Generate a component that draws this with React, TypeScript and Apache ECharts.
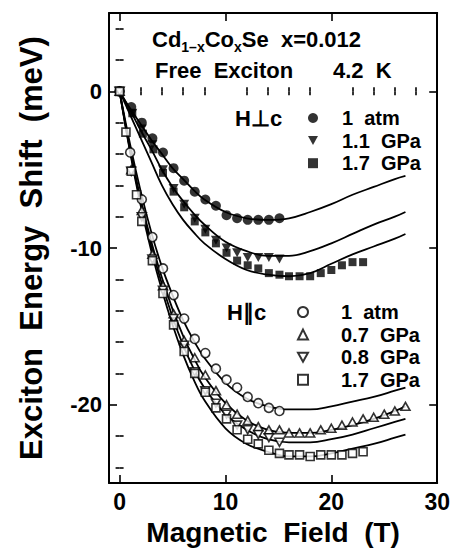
import React, { useEffect, useRef } from "react";
import * as echarts from "echarts";

// Axis ranges and ticks
const xMin = -1;
const xMax = 30;
const yMin = -25;
const yMax = 5;
const xMajorTicks = [0, 10, 20, 30];
const xMinorTicks = [2, 4, 6, 8, 12, 14, 16, 18, 22, 24, 26, 28];
const yMajorTicks = [-20, -10, 0];
const yMinorTicks = [-24, -22, -18, -16, -14, -12, -8, -6, -4, -2, 2, 4];

// H ⊥ c data (field T, shift meV)
const perpAtmB = [0, 1.1, 2.1, 3.1, 4.1, 5.1, 6.1, 7.1, 8.1, 9.1, 10.1, 11.1, 12.1, 13.1, 14.1, 15.1];
const perpAtmE = [0, -1.0, -2.0, -3.0, -3.9, -4.9, -5.7, -6.4, -6.9, -7.3, -7.9, -8.1, -8.2, -8.2, -8.2, -8.1];
const perp11B = [0, 1.2, 2.1, 3.1, 4.1, 5.1, 6.1, 7.1, 8.1, 9.1, 10.1, 11.1, 12.1, 13.1, 14.1, 15.1];
const perp11E = [0, -1.4, -2.4, -3.4, -5.0, -6.2, -7.2, -8.1, -8.8, -9.5, -10.0, -10.3, -10.6, -10.6, -10.6, -10.7];
const perp17B = [0, 1.2, 2.2, 3.2, 4.1, 5.1, 6.1, 7.1, 8.1, 9.1, 10.1, 11.1, 12.1, 13.1, 14.1, 15.1, 16.0, 17.0, 18.0, 19.0, 20.0, 21.0, 22.0, 23.0];
const perp17E = [0, -1.4, -2.7, -3.7, -5.2, -6.4, -7.4, -8.3, -9.0, -9.7, -10.3, -10.8, -11.1, -11.3, -11.6, -11.7, -11.8, -11.8, -11.8, -11.6, -11.4, -11.1, -10.9, -10.9];

// H ∥ c data
const parAtmB = [0, 1.0, 2.1, 3.1, 4.1, 5.1, 6.1, 7.1, 8.1, 9.1, 10.1, 11.1, 12.1, 13.1, 14.1, 15.1];
const parAtmE = [0, -3.9, -6.9, -9.3, -11.3, -13.0, -14.5, -15.8, -16.7, -17.7, -18.4, -18.9, -19.5, -19.9, -20.2, -20.4];
const par07B = [0, 1.1, 2.1, 3.1, 4.1, 5.1, 6.1, 7.1, 8.1, 9.1, 10.1, 11.1, 12.1, 13.1, 14.1, 15.1, 16.0, 17.0, 18.0, 19.0, 20.0, 21.0, 22.0, 23.0, 24.0, 25.0, 26.0, 27.0];
const par07E = [0, -5.0, -7.6, -10.4, -12.4, -14.2, -15.9, -17.0, -18.1, -19.1, -20.0, -20.6, -21.0, -21.4, -21.6, -21.6, -21.8, -21.8, -21.8, -21.6, -21.5, -21.3, -21.1, -20.9, -20.8, -20.6, -20.4, -20.1];
const par08B = [0, 1.1, 2.1, 3.1, 4.1, 5.1, 6.1, 7.1, 8.1, 9.1, 10.1, 11.1, 12.1, 13.1, 14.1, 15.1];
const par08E = [0, -5.1, -8.0, -10.7, -12.7, -14.5, -16.2, -17.9, -19.1, -19.9, -20.6, -21.3, -21.6, -21.9, -22.1, -22.4];
const par17B = [0, 0.6, 1.1, 1.6, 2.1, 3.1, 4.1, 5.1, 6.1, 7.1, 8.1, 9.1, 10.1, 11.1, 12.1, 13.1, 14.1, 15.1, 16.0, 17.0, 18.0, 19.0, 20.0, 21.0, 22.0, 23.0];
const par17E = [0, -2.6, -5.1, -6.6, -8.3, -10.8, -12.9, -14.9, -16.6, -18.0, -19.2, -20.2, -20.9, -21.6, -22.2, -22.5, -22.9, -23.1, -23.2, -23.2, -23.3, -23.2, -23.2, -23.2, -23.1, -23.0];

// Fitted curves (read at these fields)
const fitB = [0, 1, 2, 3, 4, 5, 6, 7, 8, 10, 12, 14, 16, 18, 20, 22, 24, 26, 27];
const fitPerpAtm = [0, -1.1, -2.1, -3.1, -4.0, -4.9, -5.6, -6.3, -6.9, -7.7, -8.1, -8.2, -8.1, -7.7, -7.2, -6.6, -6.1, -5.6, -5.4];
const fitPerp11 = [0, -1.2, -2.5, -3.7, -5.0, -6.1, -7.0, -7.8, -8.5, -9.6, -10.2, -10.5, -10.5, -10.2, -9.7, -9.1, -8.5, -8.0, -7.7];
const fitPerp17 = [0, -1.5, -3.0, -4.5, -6.0, -7.2, -8.2, -9.0, -9.7, -10.7, -11.4, -11.7, -11.8, -11.6, -11.0, -10.4, -9.9, -9.4, -9.1];
const fitParAtm = [0, -3.4, -6.4, -9.0, -11.2, -13.0, -14.6, -15.9, -17.0, -18.6, -19.6, -20.1, -20.3, -20.3, -20.1, -19.8, -19.5, -19.1, -18.9];
const fitPar07 = [0, -3.7, -6.9, -9.6, -11.9, -13.9, -15.6, -17.0, -18.2, -19.9, -21.0, -21.6, -21.8, -21.8, -21.6, -21.3, -20.9, -20.4, -20.1];
const fitPar08 = [0, -3.8, -7.1, -9.9, -12.3, -14.4, -16.2, -17.7, -18.9, -20.6, -21.6, -22.2, -22.4, -22.4, -22.2, -21.9, -21.5, -21.1, -20.9];
const fitPar17 = [0, -3.9, -7.3, -10.2, -12.7, -14.9, -16.8, -18.4, -19.7, -21.5, -22.5, -23.0, -23.3, -23.3, -23.1, -22.8, -22.5, -22.1, -21.9];

const perpNames = ["⊥ 1 atm", "⊥ 1.1 GPa", "⊥ 1.7 GPa"];
const parNames = ["∥ 1 atm", "∥ 0.7 GPa", "∥ 0.8 GPa", "∥ 1.7 GPa"];

const FONT = "'Liberation Sans', Arial, Helvetica, sans-serif";
const DOWN_TRI = "path://M0,0L10,0L5,9Z";

const zip = (xs: number[], ys: number[]) => xs.map((x, i) => [x, ys[i]]);

export default function App() {
  const ref = useRef<HTMLDivElement>(null);
  useEffect(() => {
    if (!ref.current) return;
    const chart = echarts.init(ref.current, null, { renderer: "svg" });

    const axisLine = { show: true, onZero: false, lineStyle: { color: "#000", width: 2 } };
    const mkX = (position: string, ticks: number[], len: number, labels: boolean, line: boolean) => ({
      type: "value",
      min: xMin,
      max: xMax,
      position,
      axisLine: line ? axisLine : { show: false },
      axisTick: { show: true, inside: true, length: len, customValues: ticks, lineStyle: { color: "#000", width: 1.6 } },
      axisLabel: labels
        ? { show: true, customValues: xMajorTicks, fontFamily: FONT, fontWeight: "bold", fontSize: 23, color: "#000", margin: 7 }
        : { show: false },
      splitLine: { show: false },
    });
    const mkY = (position: string, ticks: number[], len: number, labels: boolean, line: boolean) => ({
      type: "value",
      min: yMin,
      max: yMax,
      position,
      axisLine: line ? axisLine : { show: false },
      axisTick: { show: true, inside: true, length: len, customValues: ticks, lineStyle: { color: "#000", width: 1.6 } },
      axisLabel: labels
        ? { show: true, customValues: yMajorTicks, fontFamily: FONT, fontWeight: "bold", fontSize: 22, color: "#000", margin: 7 }
        : { show: false },
      splitLine: { show: false },
    });

    const xAxes: any[] = [
      {
        ...mkX("bottom", xMajorTicks, 8, true, true),
        name: "Magnetic  Field  (T)",
        nameLocation: "middle",
        nameGap: 30,
        nameTextStyle: { fontFamily: FONT, fontWeight: "bold", fontSize: 28, color: "#000" },
      },
      mkX("bottom", xMinorTicks, 4, false, false),
      mkX("top", xMajorTicks, 8, false, true),
      mkX("top", xMinorTicks, 4, false, false),
    ];
    const yAxes: any[] = [
      {
        ...mkY("left", yMajorTicks, 8, true, true),
        name: "Exciton  Energy  Shift  (meV)",
        nameLocation: "middle",
        nameGap: 62,
        nameTextStyle: { fontFamily: FONT, fontWeight: "bold", fontSize: 31, color: "#000" },
      },
      mkY("left", yMinorTicks, 4, false, false),
      mkY("right", yMajorTicks, 8, false, true),
      mkY("right", yMinorTicks, 4, false, false),
    ];

    const fitLine = (ys: number[]) => ({
      type: "line",
      data: zip(fitB, ys),
      smooth: 0.4,
      symbol: "none",
      silent: true,
      lineStyle: { color: "#000", width: 1.8 },
      z: 2,
    });
    const filled = { color: "#000", borderColor: "#000", borderWidth: 0 };
    const open = { color: "#fff", borderColor: "#000", borderWidth: 1.6 };
    const scatter = (name: string, xs: number[], ys: number[], symbol: string, size: any, style: any) => ({
      type: "scatter",
      name,
      data: zip(xs, ys),
      symbol,
      symbolSize: size,
      itemStyle: style,
      z: 5,
    });

    const series: any[] = [
      fitLine(fitPerpAtm),
      fitLine(fitPerp11),
      fitLine(fitPerp17),
      fitLine(fitParAtm),
      fitLine(fitPar07),
      fitLine(fitPar08),
      fitLine(fitPar17),
      scatter(perpNames[0], perpAtmB, perpAtmE, "circle", 10, filled),
      scatter(perpNames[1], perp11B, perp11E, DOWN_TRI, [10, 9], filled),
      scatter(perpNames[2], perp17B, perp17E, "rect", 8, filled),
      scatter(parNames[0], parAtmB, parAtmE, "circle", 9, open),
      scatter(parNames[1], par07B, par07E, "triangle", [9, 8], open),
      scatter(parNames[2], par08B, par08E, DOWN_TRI, [9, 8], open),
      scatter(parNames[3], par17B, par17E, "rect", 8, open),
    ];

    const legendText = {
      fontFamily: FONT,
      fontWeight: "bold",
      fontSize: 20,
      color: "#000",
      lineHeight: 22,
    };
    const stripPrefix = (n: string) => n.replace(/^[⊥∥] /, "").replace(" ", "  ");
    const txt = { fontFamily: FONT, fontWeight: "bold", fontSize: 22, fill: "#000" };

    chart.setOption({
      animation: false,
      backgroundColor: "#fff",
      grid: { left: 109, right: 13, top: 13, bottom: 64, containLabel: false },
      xAxis: xAxes,
      yAxis: yAxes,
      legend: [
        {
          data: perpNames,
          orient: "vertical",
          left: 308,
          top: 107,
          padding: 0,
          itemGap: 0.6,
          itemWidth: 10,
          itemHeight: 10,
          selectedMode: false,
          formatter: stripPrefix,
          textStyle: { ...legendText, padding: [0, 0, 0, 19] },
        },
        {
          data: parNames,
          orient: "vertical",
          left: 297,
          top: 301,
          padding: 0,
          itemGap: 0.6,
          itemWidth: 10,
          itemHeight: 10,
          selectedMode: false,
          formatter: stripPrefix,
          textStyle: { ...legendText, padding: [0, 0, 0, 28] },
        },
      ],
      graphic: [
        {
          type: "text",
          left: 152,
          top: 28,
          style: {
            text: "{n|Cd}{s|1–x}{n|Co}{s|x}{n|Se  x=0.012}",
            rich: {
              n: { fontFamily: FONT, fontWeight: "bold", fontSize: 22, fill: "#000", verticalAlign: "bottom", lineHeight: 24 },
              s: { fontFamily: FONT, fontWeight: "bold", fontSize: 14, fill: "#000", verticalAlign: "bottom", lineHeight: 17, padding: [0, 0, -4, 0] },
            },
          },
        },
        { type: "text", left: 155, top: 59, style: { text: "Free  Exciton", ...txt } },
        { type: "text", left: 333, top: 59, style: { text: "4.2  K", ...txt } },
        { type: "text", left: 235, top: 107, style: { text: "H⊥c", ...txt } },
        { type: "text", left: 227, top: 301, style: { text: "H∥c", ...txt } },
      ],
      series,
    });

    return () => chart.dispose();
  }, []);

  return <div ref={ref} style={{ width: 453, height: 551, position: "absolute", left: 0, top: 0 }} />;
}
